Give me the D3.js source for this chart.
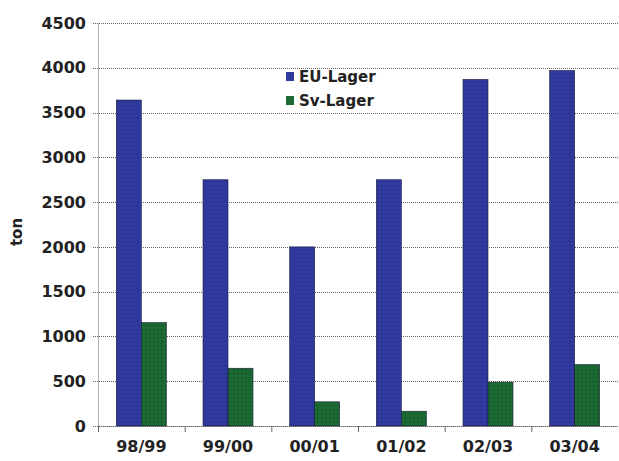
<!DOCTYPE html>
<html><head><meta charset="utf-8">
<script src="https://cdn.jsdelivr.net/npm/d3@7"></script>
<style>body{margin:0;background:#fff}</style>
</head><body>
<script>
const categories = ["98/99","99/00","00/01","01/02","02/03","03/04"];
const seriesNames = ["EU-Lager","Sv-Lager"];
const euLager = [3640, 2750, 2000, 2750, 3870, 3970];
const svLager = [1155, 645, 270, 165, 490, 685];
const yTicks = [0,500,1000,1500,2000,2500,3000,3500,4000,4500];
const colors = ["#2f3a9e","#1d6a35"];

const W=619,H=461;
const m={left:98,right:1,top:23,bottom:35};
const svg=d3.select("body").append("svg").attr("width",W).attr("height",H);
const defs=svg.append("defs");
const patBase=["#2f39a0","#1b6a33"];
colors.forEach((c,i)=>{
  const p=defs.append("pattern").attr("id","p"+i).attr("width",4).attr("height",4).attr("patternUnits","userSpaceOnUse");
  p.append("rect").attr("width",4).attr("height",4).attr("fill",patBase[i]);
  p.append("rect").attr("x",1).attr("y",1).attr("width",1.3).attr("height",1.3).attr("fill",i==0?"#24307a":"#0f4a22");
});
const x=d3.scaleBand().domain(categories).range([m.left,W-m.right]);
const y=d3.scaleLinear().domain([0,4500]).range([H-m.bottom,m.top]);
const x1=d3.scaleBand().domain(seriesNames).range([0,50]);
const off=(x.bandwidth()-50)/2;
const font="DejaVu Sans";

// gridlines
svg.append("g").selectAll("line").data(yTicks).join("line")
  .attr("x1",m.left-5).attr("x2",W).attr("y1",d=>Math.round(y(d))+0.5).attr("y2",d=>Math.round(y(d))+0.5)
  .attr("stroke","#666").attr("stroke-width",1).attr("stroke-dasharray","1,1");
// y axis
const ya=svg.append("g").attr("transform",`translate(${m.left},0)`)
  .call(d3.axisLeft(y).tickValues(yTicks).tickFormat(d3.format("d")).tickSize(0).tickPadding(12));
ya.select(".domain").attr("stroke","#666").attr("stroke-dasharray","1,1");
ya.selectAll("text").attr("font-family",font).attr("font-weight","bold").attr("font-size",16).attr("fill","#222");

// bars
const groups=[euLager,svLager];
groups.forEach((vals,si)=>{
  svg.append("g").selectAll("rect").data(vals).join("rect")
    .attr("x",(d,i)=>x(categories[i])+off+x1(seriesNames[si]))
    .attr("width",x1.bandwidth())
    .attr("y",d=>y(d)).attr("height",d=>y(0)-y(d))
    .attr("fill","url(#p"+si+")").attr("stroke","#1a1a3a").attr("stroke-width",0.6);
});

// x axis
const xa=svg.append("g").attr("transform",`translate(0,${y(0)})`)
  .call(d3.axisBottom(x).tickSize(0).tickPadding(15));
xa.select(".domain").attr("stroke","#666").attr("stroke-dasharray","1,1");
xa.selectAll("text").attr("font-family",font).attr("font-weight","bold").attr("font-size",16).attr("fill","#222");
svg.append("g").selectAll("line").data(categories).join("line")
  .attr("x1",d=>x(d)+0.5).attr("x2",d=>x(d)+0.5).attr("y1",y(0)).attr("y2",y(0)+6).attr("stroke","#666");

// y label
svg.append("text").attr("transform","translate(22,232) rotate(-90)").attr("text-anchor","middle")
  .attr("font-family",font).attr("font-weight","bold").attr("font-size",15).attr("fill","#222").text("ton");

// legend
const lg=svg.append("g").attr("transform","translate(286,80)");
seriesNames.forEach((n,i)=>{
  const g=lg.append("g").attr("transform",`translate(0,${i*24})`);
  g.append("rect").attr("x",0).attr("y",-8).attr("width",8).attr("height",9).attr("fill",colors[i]);
  g.append("text").attr("x",13).attr("y",2).attr("font-family",font).attr("font-weight","bold")
    .attr("font-size",15).attr("fill","#222").text(n);
});
</script>
</body></html>
